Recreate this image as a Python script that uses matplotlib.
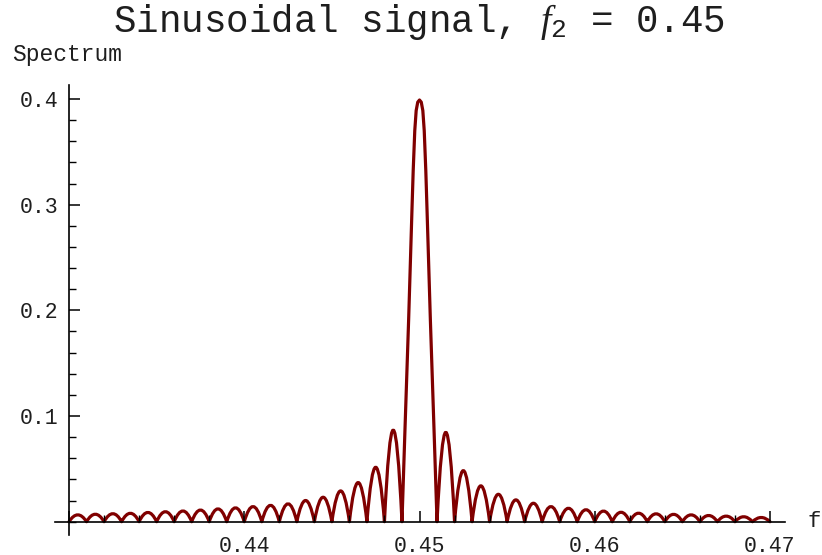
import matplotlib
matplotlib.use("Agg")
import matplotlib.pyplot as plt
from matplotlib.path import Path
from matplotlib.patches import PathPatch
from matplotlib.ticker import MultipleLocator, FixedLocator

plt.rcParams['font.family'] = ['Liberation Mono', 'DejaVu Sans']
plt.rcParams['mathtext.fontset'] = 'custom'
plt.rcParams['mathtext.it'] = 'Liberation Serif:italic'
plt.rcParams['mathtext.rm'] = 'Liberation Mono'

# zeros of the side lobes (frequency) and lobe peak heights
left_edges = [0.430, 0.431, 0.432, 0.433, 0.434, 0.435, 0.436, 0.437, 0.438, 0.439,
              0.440, 0.441, 0.442, 0.443, 0.444, 0.445, 0.446, 0.447, 0.448, 0.449]
left_peaks = [0.0065, 0.0071, 0.0076, 0.0080, 0.0088, 0.0095, 0.0102, 0.0111, 0.0122, 0.0132,
              0.0144, 0.0156, 0.0170, 0.0201, 0.0232, 0.0292, 0.0371, 0.0516, 0.0868]

right_edges = [0.451, 0.452, 0.453, 0.454, 0.455, 0.456, 0.457, 0.458, 0.459, 0.460,
               0.461, 0.462, 0.463, 0.464, 0.465, 0.466, 0.467, 0.468, 0.469, 0.470]
right_peaks = [0.0847, 0.0484, 0.0340, 0.0260, 0.0207, 0.0175, 0.0144, 0.0128, 0.0114, 0.0101,
               0.0090, 0.0081, 0.0075, 0.0070, 0.0065, 0.0059, 0.0053, 0.0047, 0.0040]

# main lobe, traced point by point
main_f = [0.44917, 0.44938, 0.44957, 0.44964, 0.44973, 0.44981, 0.44990, 0.45000,
          0.45010, 0.45019, 0.45027, 0.45036, 0.45043, 0.45062, 0.45083, 0.45100]
main_s = [0.0866, 0.191, 0.295, 0.332, 0.370, 0.389, 0.397, 0.399,
          0.397, 0.389, 0.370, 0.332, 0.295, 0.191, 0.0866, 0.0]

x_major = [0.43, 0.44, 0.45, 0.46, 0.47]
x_labels = ['', '0.44', '0.45', '0.46', '0.47']
y_major = [0.1, 0.2, 0.3, 0.4]
y_labels = ['0.1', '0.2', '0.3', '0.4']

color = '#800000'
text_color = '#1e1e1e'


def lobe_path(edges, peaks, verts, codes):
    # each side lobe drawn as a quadratic bezier arch between its zeros
    for x0, x1, h in zip(edges[:-1], edges[1:], peaks):
        verts.append(((x0 + x1) / 2, 2 * h))
        verts.append((x1, 0.0))
        codes.extend([Path.CURVE3, Path.CURVE3])


verts = [(left_edges[0], 0.0)]
codes = [Path.MOVETO]
lobe_path(left_edges, left_peaks, verts, codes)
for f, s in zip(main_f, main_s):
    verts.append((f, s))
    codes.append(Path.LINETO)
lobe_path(right_edges, right_peaks, verts, codes)

fig = plt.figure(figsize=(8.22, 5.55), dpi=100)
ax = fig.add_axes([55 / 822, 1 - 535 / 555, 730 / 822, 450 / 555])

patch = PathPatch(Path(verts, codes), facecolor='none', edgecolor=color,
                  linewidth=2.3, joinstyle='round', capstyle='round')
ax.add_patch(patch)

ax.set_xlim(0.4292, 0.470857)
ax.set_ylim(-0.01258, 0.4132)

for side in ['top', 'right']:
    ax.spines[side].set_visible(False)
ax.spines['left'].set_position(('data', 0.43))
ax.spines['bottom'].set_position(('data', 0.0))
for side in ['left', 'bottom']:
    ax.spines[side].set_linewidth(1.2)
    ax.spines[side].set_color('black')

ax.xaxis.set_major_locator(FixedLocator(x_major))
ax.set_xticklabels(x_labels)
ax.xaxis.set_minor_locator(MultipleLocator(0.002))
ax.yaxis.set_major_locator(FixedLocator(y_major))
ax.set_yticklabels(y_labels)
ax.yaxis.set_minor_locator(MultipleLocator(0.02))

ax.tick_params(axis='both', which='major', direction='in', length=8, width=1.1,
               labelsize=15.5, labelcolor=text_color, color='black')
ax.tick_params(axis='both', which='minor', direction='in', length=5, width=1.0,
               color='black')
ax.tick_params(axis='x', which='major', pad=10)
ax.tick_params(axis='y', which='major', pad=8)

ax.text(1.031, 0.0, 'f', transform=ax.get_yaxis_transform(), fontsize=16,
        color=text_color, va='center', ha='left')
fig.text(12 / 822, 1 - 55 / 555, 'Spectrum', fontsize=16.5, color=text_color,
         va='center', ha='left')
fig.text(419 / 822, 1 - 22 / 555, r'Sinusoidal signal, $f_2$ = 0.45', fontsize=27,
         color=text_color, va='center', ha='center')

fig.savefig('out.png', dpi=100)
